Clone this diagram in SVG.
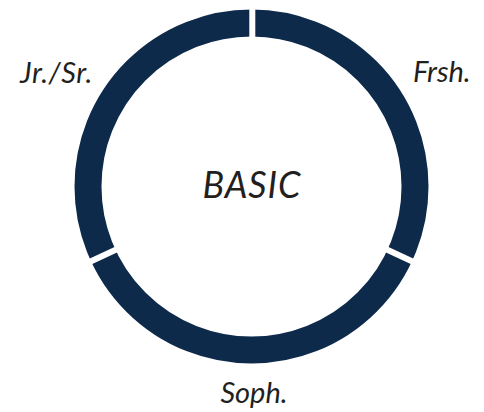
<svg xmlns="http://www.w3.org/2000/svg" width="484" height="412" viewBox="0 0 484 412">
<style>
.ring{fill:none;stroke:#0e2a4b;stroke-width:27}
.gap{stroke:#ffffff;stroke-width:6}
.lbl{font-family:"Lato","Liberation Sans",sans-serif;font-style:italic;font-weight:400;fill:#231f20}
</style>
<rect width="484" height="412" fill="#ffffff"/>
<g id="ring">
<circle class="ring" cx="251.5" cy="186.5" r="163.5"/>
</g>
<g id="connectors">
<line class="gap" x1="252.3" y1="0" x2="252.3" y2="45"/>
<line class="gap" transform="rotate(115 251.5 186.5)" x1="251.5" y1="0" x2="251.5" y2="45"/>
<line class="gap" transform="rotate(245 251.5 186.5)" x1="251.5" y1="0" x2="251.5" y2="45"/>
</g>
<g id="center"><text class="lbl" x="252" y="198" font-size="36" letter-spacing="1" text-anchor="middle">BASIC</text></g>
<g id="jrsr"><text class="lbl" x="20" y="82.7" font-size="29" letter-spacing="0.6">Jr./Sr.</text></g>
<g id="frsh"><text class="lbl" x="413" y="81.7" font-size="29">Frsh.</text></g>
<g id="soph"><text class="lbl" x="254" y="403.3" font-size="29" text-anchor="middle">Soph.</text></g>
</svg>
